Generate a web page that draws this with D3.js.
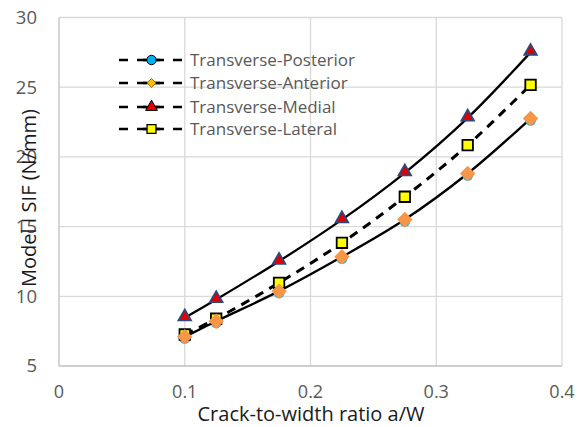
<!DOCTYPE html>
<html>
<head>
<meta charset="utf-8">
<script src="https://cdn.jsdelivr.net/npm/d3@7"></script>
<style>
  body { margin:0; background:#fff; }
  text { font-family: "Open Sans", "Noto Sans", sans-serif; }
</style>
</head>
<body>
<svg id="chart" width="581" height="427"></svg>
<script>
// crack-to-width ratios
var ratio = [0.1, 0.125, 0.175, 0.225, 0.275, 0.325, 0.375];
// SIF values
var posterior = [7.05, 8.17, 10.32, 12.78, 15.45, 18.75, 22.7];
var anterior  = [7.09, 8.21, 10.37, 12.83, 15.51, 18.81, 22.75];
var medial    = [8.46, 9.77, 12.52, 15.5, 18.86, 22.8, 27.5];
var lateral   = [7.26, 8.39, 10.97, 13.84, 17.14, 20.84, 25.17];
var xTicks = [0, 0.1, 0.2, 0.3, 0.4];
var yTicks = [5, 10, 15, 20, 25, 30];
var names = ["Transverse-Posterior", "Transverse-Anterior", "Transverse-Medial", "Transverse-Lateral"];

var svg = d3.select("#chart");
var pL = 59, pR = 562, pT = 17.5, pB = 366;

var x = d3.scaleLinear().domain([0, 0.4]).range([pL, pR]);
var y = d3.scaleLinear().domain([5, 30]).range([pB, pT]);

// grid
svg.append("g").selectAll("line").data(yTicks.slice(1)).join("line")
  .attr("x1", pL).attr("x2", pR)
  .attr("y1", d => y(d)).attr("y2", d => y(d))
  .attr("stroke", "#d9d9d9").attr("stroke-width", 1.3);
svg.append("g").selectAll("line").data(xTicks.slice(1)).join("line")
  .attr("y1", pT).attr("y2", pB)
  .attr("x1", d => x(d)).attr("x2", d => x(d))
  .attr("stroke", "#d9d9d9").attr("stroke-width", 1.3);

// axes lines
svg.append("line").attr("x1", pL).attr("x2", pL).attr("y1", pT).attr("y2", pB)
  .attr("stroke", "#bfbfbf").attr("stroke-width", 1.3);
svg.append("line").attr("x1", pL).attr("x2", pR).attr("y1", pB).attr("y2", pB)
  .attr("stroke", "#bfbfbf").attr("stroke-width", 1.3);

// tick labels
svg.append("g").selectAll("text").data(yTicks).join("text")
  .attr("x", 37).attr("y", d => y(d)).attr("dy", "0.35em")
  .attr("text-anchor", "end").attr("font-size", 18.5).attr("fill", "#595959")
  .text(d => d);
svg.append("g").selectAll("text").data(xTicks).join("text")
  .attr("x", d => x(d)).attr("y", 398)
  .attr("text-anchor", "middle").attr("font-size", 18).attr("fill", "#595959")
  .text(d => d);

// titles
svg.append("text").attr("x", 311).attr("y", 421).attr("text-anchor", "middle")
  .attr("font-size", 20).attr("fill", "#1a1a1a").text("Crack-to-width ratio a/W");
svg.append("text").attr("transform", "translate(36,198) rotate(-90)").attr("text-anchor", "middle")
  .attr("font-size", 20).attr("fill", "#1a1a1a").text("Model I SIF (N/mm)");

// curves
var line = d3.line().x(d => x(d[0])).y(d => y(d[1])).curve(d3.curveCatmullRom.alpha(0.5));
function pts(vals) { return ratio.map((r, i) => [r, vals[i]]); }

svg.append("path").attr("d", line(pts(anterior))).attr("fill", "none")
  .attr("stroke", "#000").attr("stroke-width", 2.3);
svg.append("path").attr("d", line(pts(medial))).attr("fill", "none")
  .attr("stroke", "#000").attr("stroke-width", 2.3);
svg.append("path").attr("d", line(pts(lateral))).attr("fill", "none")
  .attr("stroke", "#000").attr("stroke-width", 3).attr("stroke-dasharray", "9,7");

// markers
var circ = d3.symbol().type(d3.symbolCircle).size(95);
var diam = d3.symbol().type(d3.symbolSquare).size(120);
var tri = d3.symbol().type(d3.symbolTriangle).size(68);
var sq = d3.symbol().type(d3.symbolSquare).size(110);

svg.append("g").selectAll("path").data(pts(posterior)).join("path")
  .attr("d", circ).attr("transform", d => "translate(" + x(d[0]) + "," + (y(d[1]) + 1) + ")")
  .attr("fill", "#4bacc6");
svg.append("g").selectAll("path").data(pts(medial)).join("path")
  .attr("d", tri).attr("transform", d => "translate(" + x(d[0]) + "," + (y(d[1]) - 1) + ")")
  .attr("fill", "#e00000").attr("stroke", "#2e4a7a").attr("stroke-width", 1.8);
svg.append("g").selectAll("path").data(pts(lateral)).join("path")
  .attr("d", sq).attr("transform", d => "translate(" + x(d[0]) + "," + y(d[1]) + ")")
  .attr("fill", "#ffff00").attr("stroke", "#000").attr("stroke-width", 1.8);
svg.append("g").selectAll("path").data(pts(anterior)).join("path")
  .attr("d", diam).attr("transform", d => "translate(" + x(d[0]) + "," + y(d[1]) + ") rotate(45)")
  .attr("fill", "#f79646");

// legend
var legY = [60, 83, 107, 129];
var legSym = [
  {s: d3.symbol().type(d3.symbolCircle).size(70), fill: "#00b0f0", stroke: "#000", w: 1, r: 0},
  {s: d3.symbol().type(d3.symbolSquare).size(40), fill: "#ffc000", stroke: "#8a5a00", w: 0.8, r: 45},
  {s: d3.symbol().type(d3.symbolTriangle).size(60), fill: "#e00000", stroke: "#000", w: 1, r: 0},
  {s: d3.symbol().type(d3.symbolSquare).size(80), fill: "#ffff00", stroke: "#000", w: 1.3, r: 0}
];
var leg = svg.append("g").selectAll("g").data(names).join("g")
  .attr("transform", (d, i) => "translate(0," + legY[i] + ")");
leg.append("line").attr("x1", 119).attr("x2", 182).attr("y1", 0).attr("y2", 0)
  .attr("stroke", "#000").attr("stroke-width", 2.5).attr("stroke-dasharray", "9,9");
leg.append("line").attr("x1", 143).attr("x2", 160).attr("y1", 0).attr("y2", 0)
  .attr("stroke", "#000").attr("stroke-width", 2.5);
leg.append("path").attr("d", (d, i) => legSym[i].s())
  .attr("fill", (d, i) => legSym[i].fill).attr("stroke", (d, i) => legSym[i].stroke)
  .attr("stroke-width", (d, i) => legSym[i].w)
  .attr("transform", (d, i) => "translate(151.5,0) rotate(" + legSym[i].r + ")");
leg.append("text").attr("x", 190).attr("y", 0).attr("dy", "0.35em")
  .attr("font-size", 17).attr("fill", "#595959").text(d => d);
</script>
</body>
</html>
